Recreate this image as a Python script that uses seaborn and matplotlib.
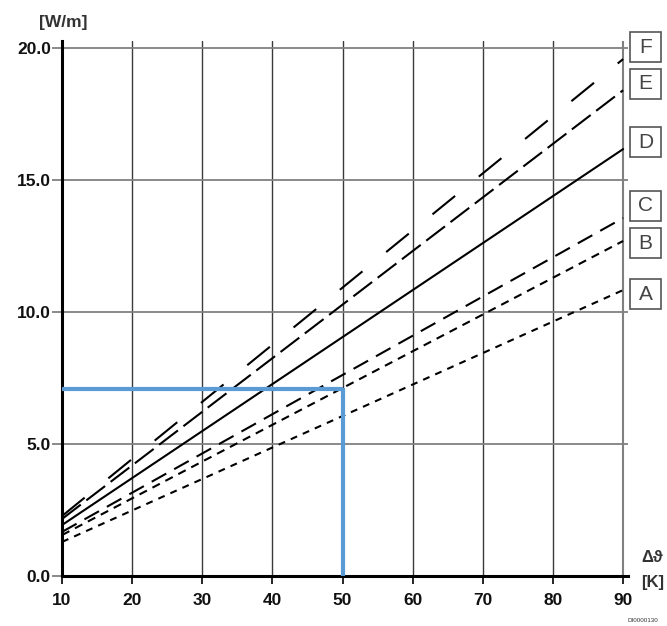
import matplotlib
matplotlib.use("Agg")
import matplotlib.pyplot as plt
import matplotlib.transforms as mtransforms
from matplotlib.patches import Rectangle
import numpy as np
import pandas as pd
import seaborn as sns

# ---- data ----
delta_t = [10, 90]                      # Δϑ [K]
series_names = ["A", "B", "C", "D", "E", "F"]
vals_A = [1.29, 10.83]
vals_B = [1.55, 12.69]
vals_C = [1.67, 13.56]
vals_D = [1.93, 16.17]
vals_E = [2.16, 18.40]
vals_F = [2.27, 19.58]
label_y = [10.68, 12.61, 14.02, 16.42, 18.64, 20.02]   # letter box centres [W/m]
example_x = 50
example_y = 7.07
x_ticks = [10, 20, 30, 40, 50, 60, 70, 80, 90]
y_ticks = [0.0, 5.0, 10.0, 15.0, 20.0]
y_tick_labels = ["0.0", "5.0", "10.0", "15.0", "20.0"]

sns.set_theme(style="white")
plt.rcParams["font.family"] = ["Liberation Sans", "DejaVu Sans"]
plt.rcParams["lines.scale_dashes"] = False

rows = []
for name, v in zip(series_names, [vals_A, vals_B, vals_C, vals_D, vals_E, vals_F]):
    for x, y in zip(delta_t, v):
        rows.append({"dt": x, "q": y, "series": name})
df = pd.DataFrame(rows)

dash_map = {
    "A": (5, 4.5),
    "B": (6, 4.5),
    "C": (12, 6.5),
    "D": "",
    "E": (17, 5),
    "F": (21, 22),
}

fig = plt.figure(figsize=(6.67, 6.26), dpi=100)
ax = fig.add_axes([0.093, 0.0799, 0.8486, 0.854])

# grid
for xv in x_ticks[1:-1]:
    ax.axvline(xv, color="#3a3a3a", lw=1.0, zorder=1)
ax.axvline(x_ticks[-1], color="#808080", lw=1.5, zorder=1)
for yv in y_ticks[1:]:
    ax.axhline(yv, color="#808080", lw=1.3, zorder=1)

sns.lineplot(data=df, x="dt", y="q", style="series", dashes=dash_map,
             color="black", lw=1.5, legend=False, ax=ax, zorder=3)

# example reading
ax.plot([delta_t[0], example_x], [example_y, example_y], color="#5B9BD5",
        lw=3.0, solid_capstyle="butt", zorder=4)
ax.plot([example_x, example_x], [0, example_y + 0.05], color="#5B9BD5",
        lw=3.0, solid_capstyle="butt", zorder=4)

ax.set_xlim(10, 90.7)
ax.set_ylim(0, 20.25)
ax.set_xticks(x_ticks)
ax.set_yticks(y_ticks)
ax.set_yticklabels(y_tick_labels)
ax.set_xlabel("")
ax.set_ylabel("")
for lab in ax.get_xticklabels() + ax.get_yticklabels():
    lab.set_fontweight("bold")
    lab.set_fontsize(12.5)
    lab.set_color("#111111")
ax.tick_params(axis="x", direction="out", length=6, width=1.2, color="black", pad=6)
ax.tick_params(axis="y", direction="out", length=7, width=1.3, color="#808080", pad=1)
ax.tick_params(bottom=True, left=True)

for s in ["top", "right"]:
    ax.spines[s].set_visible(False)
ax.spines["left"].set_linewidth(2.2)
ax.spines["left"].set_color("black")
ax.spines["bottom"].set_linewidth(2.2)
ax.spines["bottom"].set_color("black")
ax.set_facecolor("white")

# letter boxes
trans = mtransforms.blended_transform_factory(fig.transFigure, ax.transData)
box_w = 31 / 667
box_h = 30 / (626 * 0.854) * 20.25
for name, yc in zip(series_names, label_y):
    r = Rectangle((630 / 667, yc - box_h / 2), box_w, box_h, transform=trans,
                  fill=False, edgecolor="#555555", lw=1.2, clip_on=False)
    fig.add_artist(r)
    fig.text(645.5 / 667, yc, name, transform=trans, ha="center", va="center",
             fontsize=15, color="#444444")

fig.text(63 / 667, 1 - 22 / 626, "[W/m]", ha="center", va="center",
         fontsize=12.5, fontweight="bold", color="#333333")
fig.text(652 / 667, 1 - 558 / 626, "Δϑ", ha="center", va="center",
         fontsize=12, fontweight="bold", color="#333333",
         family=["Liberation Sans", "DejaVu Sans"])
fig.text(653 / 667, 1 - 583 / 626, "[K]", ha="center", va="center",
         fontsize=12, fontweight="bold", color="#333333")
fig.text(643 / 667, 1 - 620 / 626, "DI0000130", ha="center", va="center",
         fontsize=4.5, color="#333333")

fig.savefig("out.png", dpi=100, facecolor="white")
